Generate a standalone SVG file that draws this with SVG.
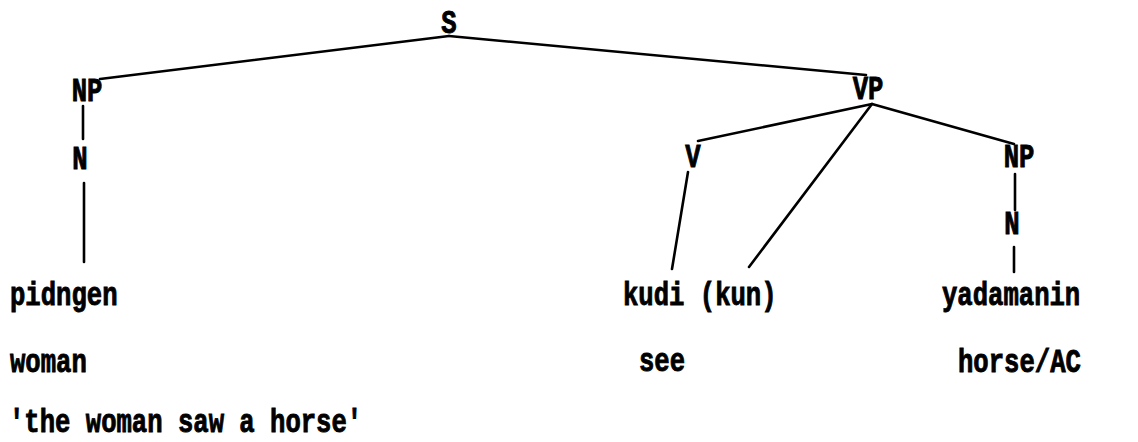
<svg xmlns="http://www.w3.org/2000/svg" width="1138" height="442" viewBox="0 0 1138 442">
<style>
text{font-family:"Liberation Mono","Courier New",monospace;font-weight:bold;font-size:25.6px;fill:#000;stroke:#000;stroke-width:0.7px}
.m{text-anchor:middle}
.e{stroke:#000;stroke-width:2.6;fill:none;stroke-linecap:round}
</style>
<rect width="1138" height="442" fill="#fff"/>
<g id="connectors">
<line class="e" x1="449" y1="36" x2="100" y2="79"/>
<line class="e" x1="449" y1="36" x2="866" y2="75"/>
<line class="e" x1="83" y1="106" x2="83" y2="139"/>
<line class="e" x1="84" y1="183" x2="84" y2="262"/>
<line class="e" x1="872" y1="104" x2="698" y2="141"/>
<line class="e" x1="872" y1="104" x2="749" y2="267"/>
<line class="e" x1="872" y1="104" x2="1014" y2="144"/>
<line class="e" x1="688" y1="172" x2="672" y2="269"/>
<line class="e" x1="1015" y1="174" x2="1015" y2="210"/>
<line class="e" x1="1014" y1="247" x2="1014" y2="272"/>
</g>
<g id="S"><text class="m" transform="translate(449,33) scale(1,1.28)">S</text></g>
<g id="NP1"><text class="m" transform="translate(87,101) scale(1,1.28)">NP</text></g>
<g id="N1"><text class="m" transform="translate(80,169) scale(1,1.28)">N</text></g>
<g id="VP"><text class="m" transform="translate(868,99) scale(1,1.28)">VP</text></g>
<g id="V"><text class="m" transform="translate(693,167) scale(1,1.28)">V</text></g>
<g id="NP2"><text class="m" transform="translate(1019,167) scale(1,1.28)">NP</text></g>
<g id="N2"><text class="m" transform="translate(1012,234) scale(1,1.28)">N</text></g>
<g id="pidngen"><text transform="translate(10,305) scale(1,1.28)">pidngen</text></g>
<g id="kudi"><text transform="translate(623,305) scale(1,1.28)">kudi (kun)</text></g>
<g id="yadamanin"><text transform="translate(942,305) scale(1,1.28)">yadamanin</text></g>
<g id="gloss-woman"><text transform="translate(10,372) scale(1,1.28)">woman</text></g>
<g id="gloss-see"><text transform="translate(639,371) scale(1,1.28)">see</text></g>
<g id="gloss-horse"><text transform="translate(958,372) scale(1,1.28)">horse/AC</text></g>
<g id="translation"><text transform="translate(9,432) scale(1,1.28)">'the woman saw a horse'</text></g>
</svg>
